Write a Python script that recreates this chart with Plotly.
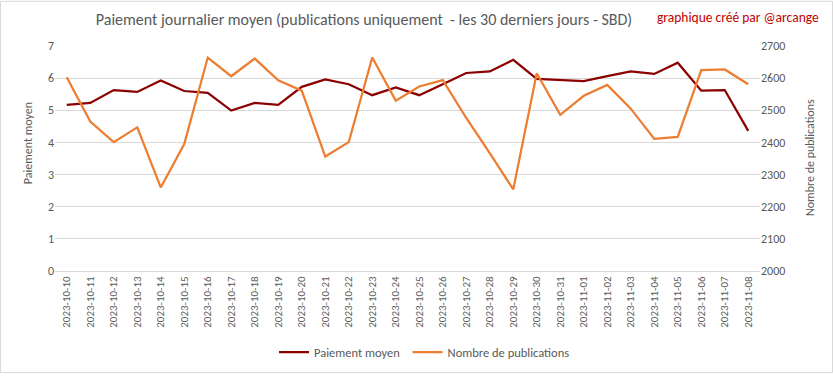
import plotly.graph_objects as go

dates = ["2023-10-10","2023-10-11","2023-10-12","2023-10-13","2023-10-14","2023-10-15",
         "2023-10-16","2023-10-17","2023-10-18","2023-10-19","2023-10-20","2023-10-21",
         "2023-10-22","2023-10-23","2023-10-24","2023-10-25","2023-10-26","2023-10-27",
         "2023-10-28","2023-10-29","2023-10-30","2023-10-31","2023-11-01","2023-11-02",
         "2023-11-03","2023-11-04","2023-11-05","2023-11-06","2023-11-07","2023-11-08"]

paiement_moyen = [5.17, 5.23, 5.63, 5.57, 5.93, 5.60, 5.54, 4.99, 5.23, 5.17,
                  5.73, 5.96, 5.81, 5.47, 5.71, 5.47, 5.81, 6.16, 6.21, 6.57,
                  5.98, 5.94, 5.91, 6.06, 6.21, 6.13, 6.48, 5.61, 5.63, 4.36]

nombre_publications = [2603, 2465, 2401, 2447, 2260, 2395, 2664, 2606, 2661, 2593,
                       2561, 2356, 2401, 2664, 2530, 2574, 2594, 2476, 2367, 2254,
                       2615, 2486, 2545, 2579, 2505, 2411, 2417, 2625, 2627, 2581]

left_ticks = [0, 1, 2, 3, 4, 5, 6, 7]
right_ticks = [2000, 2100, 2200, 2300, 2400, 2500, 2600, 2700]

FONT = "Carlito, Calibri, Lato, sans-serif"
GRAY = "#595959"
PW, PH, L, T = 705, 229, 55, 46

fig = go.Figure()
fig.add_trace(go.Scatter(x=dates, y=paiement_moyen, mode="lines",
                         name="Paiement moyen\u00a0",
                         line=dict(color="#8b0000", width=2.25)))
fig.add_trace(go.Scatter(x=dates, y=nombre_publications, mode="lines", name="Nombre de publications",
                         line=dict(color="#ed7d31", width=2.25), yaxis="y2"))

fig.update_layout(
    width=833, height=379,
    margin=dict(l=L, r=833 - L - PW, t=T, b=379 - T - PH),
    paper_bgcolor="white", plot_bgcolor="white",
    font=dict(family=FONT, color=GRAY, size=12),
    title=dict(text="Paiement journalier moyen (publications uniquement  - les 30 derniers jours - SBD)",
               x=364/833, xanchor="center", y=1 - 19/379, yanchor="middle",
               font=dict(size=16, color=GRAY, family=FONT)),
    xaxis=dict(type="category", tickangle=-90, tickfont=dict(size=11, color=GRAY),
               showgrid=False, showline=True, linecolor="#d9d9d9", linewidth=1,
               ticks="", range=[-0.5, len(dates) - 0.5], automargin=False),
    yaxis=dict(range=[0, 7], tickvals=left_ticks, showgrid=True, gridcolor="#d9d9d9",
               gridwidth=1, zeroline=False, tickfont=dict(size=12, color=GRAY),
               ticks="", automargin=False),
    yaxis2=dict(range=[2000, 2700], tickvals=right_ticks, overlaying="y", side="right",
                showgrid=False, zeroline=False, tickfont=dict(size=12, color=GRAY),
                automargin=False),
    legend=dict(orientation="h", x=(274 - L) / PW, xanchor="left",
                y=(T + PH - 358) / PH, yanchor="middle", font=dict(size=12.5, color=GRAY),
                itemwidth=30),
    showlegend=True,
)

fig.add_annotation(text="Paiement moyen", xref="paper", yref="paper",
                   x=(28 - L) / PW, xanchor="center", y=(T + PH - 145) / PH, yanchor="middle",
                   textangle=-90, showarrow=False, font=dict(size=12, color=GRAY, family=FONT))
fig.add_annotation(text="Nombre de publications", xref="paper", yref="paper",
                   x=(810 - L) / PW, xanchor="center", y=(T + PH - 160) / PH, yanchor="middle",
                   textangle=-90, showarrow=False, font=dict(size=12, color=GRAY, family=FONT))

fig.add_annotation(text="graphique créé par @arcange", xref="paper", yref="paper",
                   x=(821 - L) / PW, xanchor="right", y=(T + PH - 17) / PH, yanchor="middle",
                   showarrow=False, font=dict(size=13.5, color="#c00000", family=FONT))

fig.add_shape(type="rect", xref="paper", yref="paper",
              x0=(0.5 - L) / PW, x1=(832.5 - L) / PW, y0=(T + PH - 378.5) / PH, y1=(T + PH - 0.5) / PH,
              line=dict(color="#d9d9d9", width=1), fillcolor="rgba(0,0,0,0)", layer="below")

fig.write_html("out.html", config={"displayModeBar": False},
               post_script="document.body.style.margin='0';document.body.style.padding='0';"
                           "document.documentElement.style.overflow='hidden';")
